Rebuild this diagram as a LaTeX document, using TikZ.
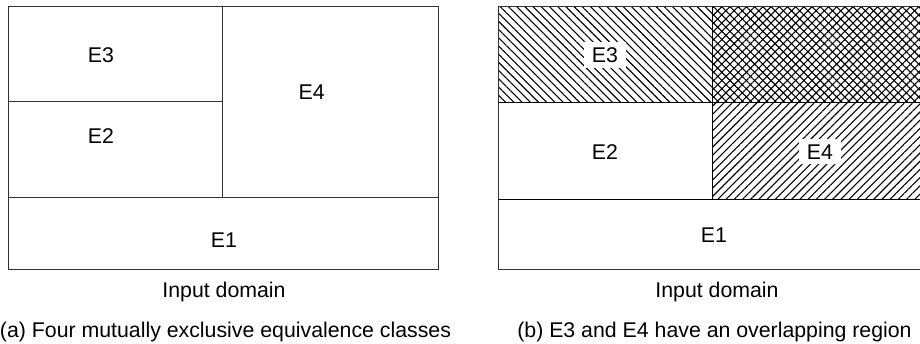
\documentclass[tikz,border=0pt]{standalone}
\usepackage{fontspec}
\setmainfont{Liberation Sans}
\usetikzlibrary{patterns.meta}
\tikzset{
  lbl/.style={anchor=base,inner sep=0pt,font=\fontsize{21.3}{25}\selectfont},
  boxlbl/.style={anchor=base,fill=white,inner xsep=8pt,inner ysep=5pt,text height=15.5pt,text depth=0pt,font=\fontsize{21.3}{25}\selectfont},
  outer/.style={draw=black!80,line width=1pt},
  inner/.style={draw=black,line width=1.5pt},
  hatchA/.style={pattern={Lines[angle=-45,distance=5.8pt,line width=1.1pt]}},
  hatchB/.style={pattern={Lines[angle=45,distance=5.8pt,line width=1.1pt]}},
}
\begin{document}
\begin{tikzpicture}[x=1pt,y=-1pt]
\useasboundingbox (0,0) rectangle (920,343);
\clip (0,0) rectangle (920,343);
% left panel
\draw[outer] (8,6) rectangle (438,269);
\draw[outer] (8,197.3) -- (438,197.3);
\draw[outer] (8,101.7) -- (222.7,101.7);
\draw[outer] (222.7,6) -- (222.7,197.3);
\node[lbl] (a3) at (101,62.7) {E3};
\node[lbl] (a2) at (101,143.3) {E2};
\node[lbl] (a4) at (311.7,99.3) {E4};
\node[lbl] (a1) at (224,247.3) {E1};
\node[lbl] (adom) at (224,297.7) {Input domain};
\node[lbl] (acap) at (225.5,337.3) {(a) Four mutually exclusive equivalence classes};
% right panel
\fill[hatchA] (498,6) rectangle (712.7,102.7);
\fill[hatchA] (712.7,6) rectangle (930,102.7);
\fill[hatchB] (712.7,6) rectangle (930,102.7);
\fill[hatchB] (712.7,102.7) rectangle (930,199.3);
\draw[outer] (498,6) rectangle (930,269);
\draw[inner] (498,102.7) -- (930,102.7);
\draw[inner] (498,199.3) -- (930,199.3);
\draw[inner] (712.7,6) -- (712.7,199.3);
\node[boxlbl] (b3) at (605,62.7) {E3};
\node[lbl] (b2) at (605,159.3) {E2};
\node[boxlbl] (b4) at (820,159.3) {E4};
\node[lbl] (b1) at (714,242.7) {E1};
\node[lbl] (bdom) at (717,297.7) {Input domain};
\node[lbl] (bcap) at (714.5,337.3) {(b) E3 and E4 have an overlapping region};
\end{tikzpicture}
\end{document}
